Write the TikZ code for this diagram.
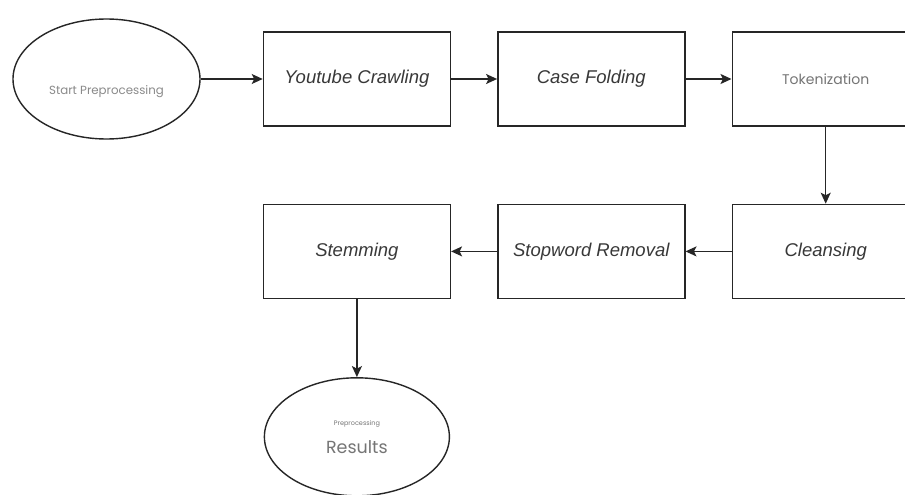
\documentclass[tikz,border=0pt]{standalone}
\usepackage{fontspec}
\setmainfont{Liberation Sans}
\newfontfamily\labelfont{Poppins}
\usepackage{xcolor}
\usetikzlibrary{arrows.meta,positioning,shapes.geometric}

\definecolor{linegray}{HTML}{262626}
\definecolor{textgray}{HTML}{383838}
\definecolor{softgray}{HTML}{8A8A8A}

\begin{document}
\begin{tikzpicture}[
  node distance=77pt and 46pt,
  every node/.style={font=\itshape\fontsize{18.5}{22}\selectfont, text=textgray},
  box/.style={draw=linegray, line width=1.4pt, minimum height=94pt,
              minimum width=187pt, inner sep=0pt, align=center},
  oval/.style={draw=linegray, ellipse, line width=1.4pt, inner sep=0pt,
               minimum width=187pt, minimum height=120pt, align=center},
  plain/.style={font=\labelfont\fontsize{11.8}{14}\selectfont, text=softgray},
  arrow/.style={-{Stealth[length=11pt,width=10pt,inset=2.5pt]}, line width=1.4pt, draw=linegray}
]
\clip (0,0) rectangle (905pt,-495pt);
\fill[white] (0,0) rectangle (905pt,-495pt);

\node[oval, plain, text height=32pt, text depth=0pt] (start) at (106.5pt,-79pt) {Start Preprocessing};
\node[box, right=62pt of start] (crawl) {Youtube Crawling};
\node[box, right=of crawl] (casefold) {Case Folding};
\node[box, right=of casefold, plain, font=\labelfont\fontsize{14}{16}\selectfont, text=softgray!85!black] (token) {Tokenization};
\node[box, below=of token] (cleanse) {Cleansing};
\node[box, left=of cleanse] (stopword) {Stopword Removal};
\node[box, left=of stopword] (stem) {Stemming};
\node[oval, below=78pt of stem, minimum width=185pt, minimum height=118pt,
      font=\labelfont, text=softgray!85!black] (result)
      {{\fontsize{6.5}{8}\selectfont Preprocessing}\\[12pt]{\fontsize{17.5}{19}\selectfont Results}};

\draw[arrow] (start)--(crawl);
\draw[arrow] (crawl)--(casefold);
\draw[arrow] (casefold)--(token);
\draw[arrow] (token)--(cleanse);
\draw[arrow] (cleanse)--(stopword);
\draw[arrow] (stopword)--(stem);
\draw[arrow] (stem)--(result);
\end{tikzpicture}
\end{document}
